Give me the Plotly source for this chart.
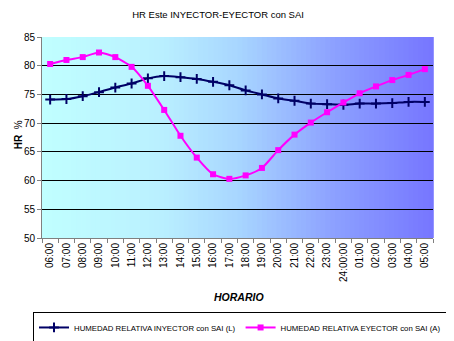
import plotly.graph_objects as go

categories = ["06:00", "07:00", "08:00", "09:00", "10:00", "11:00", "12:00", "13:00",
              "14:00", "15:00", "16:00", "17:00", "18:00", "19:00", "20:00", "21:00",
              "22:00", "23:00", "24:00:00", "01:00", "02:00", "03:00", "04:00", "05:00"]
inyector = [74.1, 74.2, 74.7, 75.4, 76.2, 76.9, 77.8, 78.2, 78.0, 77.7, 77.2, 76.6,
            75.7, 75.0, 74.3, 73.9, 73.4, 73.3, 73.2, 73.4, 73.4, 73.5, 73.7, 73.7]
eyector = [80.3, 81.0, 81.5, 82.3, 81.5, 79.8, 76.5, 72.3, 67.8, 64.0, 61.1, 60.3,
           60.9, 62.2, 65.3, 68.0, 70.1, 71.9, 73.6, 75.2, 76.4, 77.5, 78.4, 79.4]
y_ticks = [50, 55, 60, 65, 70, 75, 80, 85]

fig = go.Figure()
fig.add_trace(go.Scatter(
    x=categories, y=inyector, mode="lines+markers",
    name="HUMEDAD RELATIVA INYECTOR con SAI (L)",
    line=dict(color="#000066", width=2, shape="spline", smoothing=0.6),
    marker=dict(symbol="cross-thin-open", size=7, line=dict(color="#000066", width=2)),
))
fig.add_trace(go.Scatter(
    x=categories, y=eyector, mode="lines+markers",
    name="HUMEDAD RELATIVA EYECTOR con SAI (A)",
    line=dict(color="#ff00ff", width=2, shape="spline", smoothing=0.6),
    marker=dict(symbol="square", size=6, color="#ff00ff"),
))

# gradient background strips
stops = [(0.0, (192, 255, 255)), (0.3, (186, 240, 255)), (0.5, (168, 214, 255)),
         (0.75, (140, 160, 255)), (1.0, (118, 118, 255))]
def col(t):
    for (a, ca), (b, cb) in zip(stops[:-1], stops[1:]):
        if a <= t <= b:
            f = (t - a) / (b - a)
            return "rgb(%d,%d,%d)" % tuple(round(ca[i] + (cb[i] - ca[i]) * f) for i in range(3))
    return "rgb(118,118,255)"
shapes = []
n = 80
for i in range(n):
    shapes.append(dict(type="rect", xref="x domain", yref="y domain", x0=i / n, x1=(i + 1) / n + 0.002,
                       y0=0, y1=1, fillcolor=col((i + 0.5) / n), line=dict(width=0), layer="below"))

fig.update_layout(
    width=446, height=333,
    margin=dict(l=34, r=21, t=29, b=103, autoexpand=False),
    paper_bgcolor="white", plot_bgcolor="rgba(0,0,0,0)",
    font=dict(family="Liberation Sans Narrow, Arial Narrow, Liberation Sans, Arial", size=10, color="black"),
    title=dict(text="HR Este INYECTOR-EYECTOR con SAI", x=0.471, xanchor="center", y=0.979, yanchor="middle",
               font=dict(size=9.5)),
    shapes=shapes,
    showlegend=True,
    legend=dict(orientation="h", x=-0.023, xanchor="left", y=-0.368, yanchor="top",
                bordercolor="black", borderwidth=1, bgcolor="white",
                font=dict(size=7.8), itemwidth=30, tracegroupgap=0),
    annotations=[
        dict(text="<b>HR</b>  %", xref="paper", yref="paper", x=-0.061, y=0.512, textangle=-90,
             showarrow=False, font=dict(size=10), xanchor="center", yanchor="middle"),
        dict(text="<b><i>HORARIO</i></b>", xref="paper", yref="paper", x=0.504, y=-0.294,
             showarrow=False, font=dict(size=10.5), xanchor="center", yanchor="middle"),
    ],
)
fig.update_xaxes(type="category", tickangle=-90, tickson="boundaries", ticks="outside", ticklen=4,
                 tickcolor="#808080", showline=True, linecolor="#808080", linewidth=1,
                 showgrid=False, tickfont=dict(size=10), range=[-0.5, 23.5])
fig.update_yaxes(range=[50, 85], tickvals=y_ticks, ticks="outside", ticklen=4, tickcolor="#808080",
                 showline=True, linecolor="#808080", linewidth=1, gridcolor="black", gridwidth=1,
                 zeroline=False, tickfont=dict(size=10))

fig.write_html("out.html")
